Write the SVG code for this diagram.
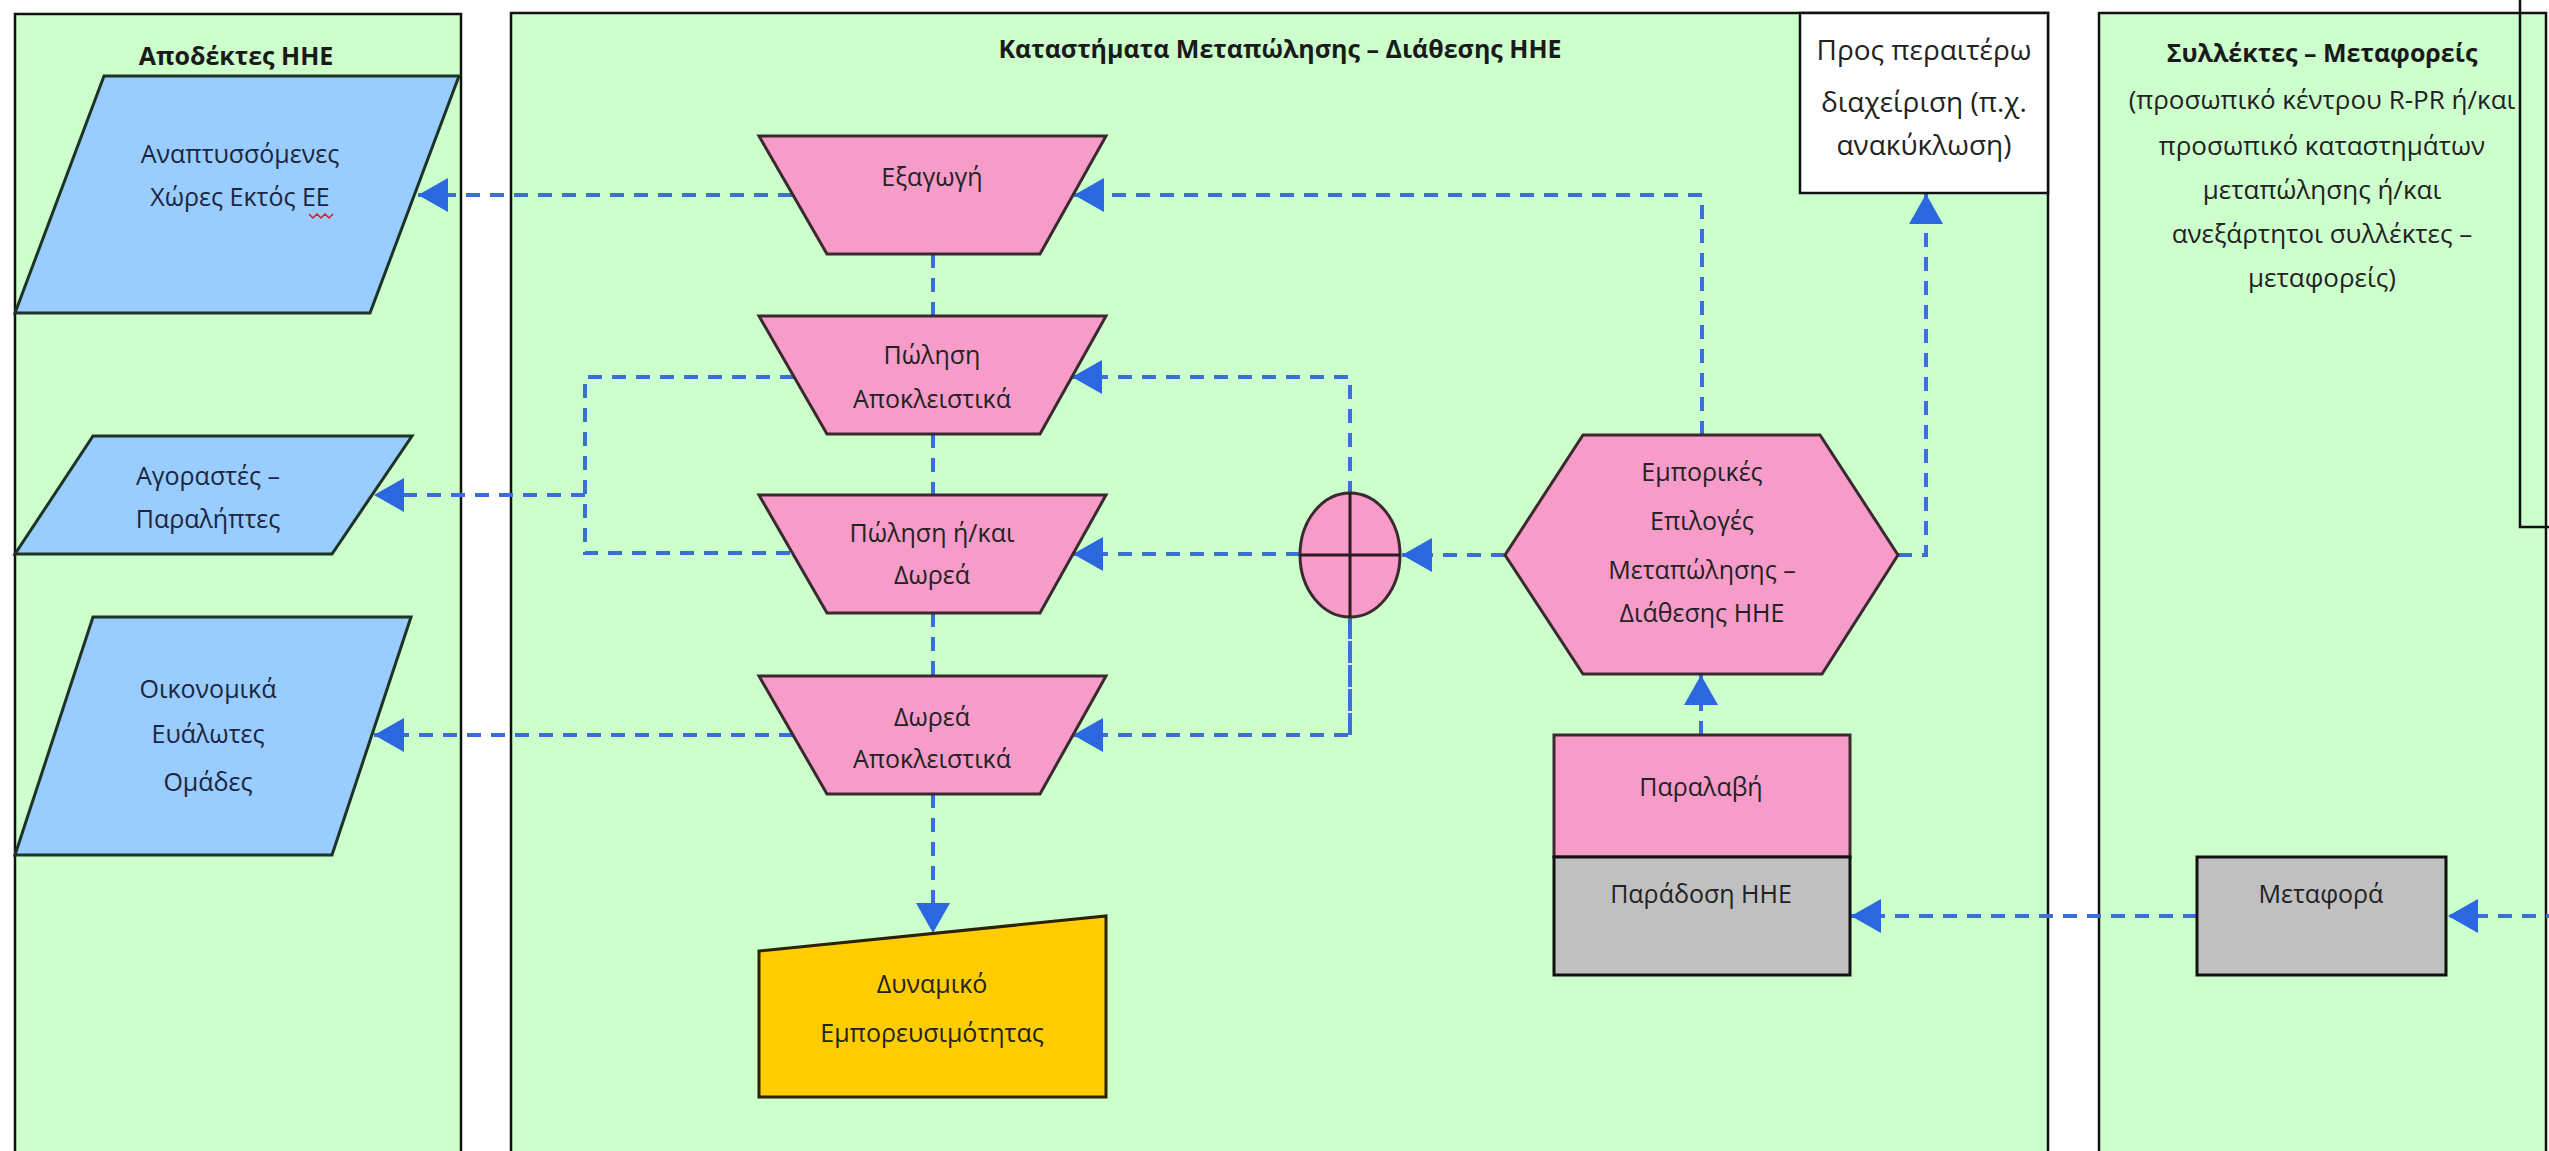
<svg xmlns="http://www.w3.org/2000/svg" width="2549" height="1151" viewBox="0 0 2549 1151">
<style>
.panel{fill:#CCFFCC;stroke:#111;stroke-width:2.5}
.blue{fill:#99CCFF;stroke:#1d3326;stroke-width:3}
.pink{fill:#F79BC9;stroke:#3a2a30;stroke-width:3}
.grey{fill:#C0C0C0;stroke:#111;stroke-width:3}
.yellow{fill:#FFCC00;stroke:#2a2200;stroke-width:3}
.white{fill:#FFFFFF;stroke:#111;stroke-width:2.5}
.conn{fill:none;stroke:#3C6FD6;stroke-width:4;stroke-dasharray:14 10}
.t{font-family:"Open Sans","Noto Sans",sans-serif;font-size:25px;fill:#222;text-anchor:middle}
.tb{font-family:"Open Sans","Noto Sans",sans-serif;font-size:25px;font-weight:bold;fill:#1a1a1a;text-anchor:middle}
.tn{fill:#1c2540}
.tw{font-size:28px}
.tr{font-size:26px}
</style>
<defs>
<marker id="arr" markerUnits="userSpaceOnUse" markerWidth="32" markerHeight="36" refX="30" refY="17" orient="auto">
<path d="M0,0 L30,17 L0,34 Z" fill="#2B68E0"/>
</marker>
</defs>
<rect width="2549" height="1151" fill="#FFFFFF"/>

<g id="panel-left">
<rect class="panel" x="15" y="14" width="446" height="1150"/>
<text class="tb" x="236" y="65">Αποδέκτες ΗΗΕ</text>
</g>
<g id="panel-middle">
<rect class="panel" x="511" y="13" width="1537" height="1150"/>
<text class="tb" x="1280" y="58">Καταστήματα Μεταπώλησης – Διάθεσης ΗΗΕ</text>
</g>
<g id="panel-right">
<rect class="panel" x="2099" y="13" width="447" height="1150"/>
<text class="tb" x="2322" y="62">Συλλέκτες – Μεταφορείς</text>
<text class="t tr" x="2322" y="109">(προσωπικό κέντρου R-PR ή/και</text>
<text class="t tr" x="2322" y="155">προσωπικό καταστημάτων</text>
<text class="t tr" x="2322" y="199">μεταπώλησης ή/και</text>
<text class="t tr" x="2322" y="243">ανεξάρτητοι συλλέκτες –</text>
<text class="t tr" x="2322" y="287">μεταφορείς)</text>
</g>
<g id="partial-box">
<rect x="2520" y="-5" width="60" height="532" fill="none" stroke="#111" stroke-width="2.5"/>
</g>

<g id="connectors">
<path class="conn" d="M792,195 H418" marker-end="url(#arr)"/>
<path class="conn" d="M1702,435 V195 H1074" marker-end="url(#arr)"/>
<path class="conn" d="M794,377 H585 V553 H792"/>
<path class="conn" d="M585,495 H374" marker-end="url(#arr)"/>
<path class="conn" d="M793,735 H374" marker-end="url(#arr)"/>
<path class="conn" d="M1350,735 V377 H1072" marker-end="url(#arr)"/>
<path class="conn" d="M1300,554 H1073" marker-end="url(#arr)"/>
<path class="conn" d="M1350,617 V735 H1073" marker-end="url(#arr)"/>
<path class="conn" d="M1505,555 H1402" marker-end="url(#arr)"/>
<path class="conn" d="M1898,555 H1926 V194" marker-end="url(#arr)"/>
<path class="conn" d="M1701,735 V675" marker-end="url(#arr)"/>
<path class="conn" d="M2197,916 H1851" marker-end="url(#arr)"/>
<path class="conn" d="M2560,916 H2448" marker-end="url(#arr)"/>
<path class="conn" d="M933,254 V316 M933,434 V495 M933,613 V676"/>
<path class="conn" d="M933,794 V933" marker-end="url(#arr)"/>
</g>

<g id="node-anaptyssomenes">
<polygon class="blue" points="104,76 459,76 370,313 15,313"/>
<text class="t tn" x="240" y="163">Αναπτυσσόμενες</text>
<text class="t tn" x="240" y="206">Χώρες Εκτός ΕΕ</text>
<path d="M309,214 l4,4 l4,-4 l4,4 l4,-4 l4,4 l4,-4" fill="none" stroke="#d02020" stroke-width="1.5"/>
</g>
<g id="node-agorastes">
<polygon class="blue" points="93,436 412,436 332,554 15,554"/>
<text class="t tn" x="208" y="485">Αγοραστές –</text>
<text class="t tn" x="208" y="528">Παραλήπτες</text>
</g>
<g id="node-oikonomika">
<polygon class="blue" points="93,617 411,617 332,855 15,855"/>
<text class="t tn" x="208" y="698">Οικονομικά</text>
<text class="t tn" x="208" y="743">Ευάλωτες</text>
<text class="t tn" x="208" y="791">Ομάδες</text>
</g>

<g id="node-exagogi">
<polygon class="pink" points="759,136 1106,136 1040,254 827,254"/>
<text class="t" x="932" y="186">Εξαγωγή</text>
</g>
<g id="node-polisi-apokleistika">
<polygon class="pink" points="759,316 1106,316 1040,434 827,434"/>
<text class="t" x="932" y="364">Πώληση</text>
<text class="t" x="932" y="408">Αποκλειστικά</text>
</g>
<g id="node-polisi-dorea">
<polygon class="pink" points="759,495 1106,495 1040,613 827,613"/>
<text class="t" x="932" y="542">Πώληση ή/και</text>
<text class="t" x="932" y="584">Δωρεά</text>
</g>
<g id="node-dorea-apokleistika">
<polygon class="pink" points="759,676 1106,676 1040,794 827,794"/>
<text class="t" x="932" y="726">Δωρεά</text>
<text class="t" x="932" y="768">Αποκλειστικά</text>
</g>
<g id="node-dynamiko">
<polygon class="yellow" points="759,951 1106,916 1106,1097 759,1097"/>
<text class="t" x="932" y="993">Δυναμικό</text>
<text class="t" x="932" y="1042">Εμπορευσιμότητας</text>
</g>

<g id="node-xor">
<ellipse class="pink" cx="1350" cy="555" rx="50" ry="62"/>
<path d="M1350,493 V617 M1300,555 H1400" stroke="#2a1a22" stroke-width="3" fill="none"/>
</g>

<g id="node-emporikes">
<polygon class="pink" points="1583,435 1820,435 1898,555 1822,674 1583,674 1505,555"/>
<text class="t" x="1702" y="481">Εμπορικές</text>
<text class="t" x="1702" y="530">Επιλογές</text>
<text class="t" x="1702" y="579">Μεταπώλησης –</text>
<text class="t" x="1702" y="622">Διάθεσης ΗΗΕ</text>
</g>

<g id="node-paralavi">
<rect class="pink" x="1554" y="735" width="296" height="122"/>
<text class="t" x="1701" y="796">Παραλαβή</text>
</g>
<g id="node-paradosi">
<rect class="grey" x="1554" y="857" width="296" height="118"/>
<text class="t" x="1701" y="903">Παράδοση ΗΗΕ</text>
</g>

<g id="node-peraitero">
<rect class="white" x="1800" y="13" width="248" height="180"/>
<text class="t tw" x="1924" y="60">Προς περαιτέρω</text>
<text class="t tw" x="1924" y="112">διαχείριση (π.χ.</text>
<text class="t tw" x="1924" y="155">ανακύκλωση)</text>
</g>

<g id="node-metafora">
<rect class="grey" x="2197" y="857" width="249" height="118"/>
<text class="t" x="2321" y="903">Μεταφορά</text>
</g>
</svg>
